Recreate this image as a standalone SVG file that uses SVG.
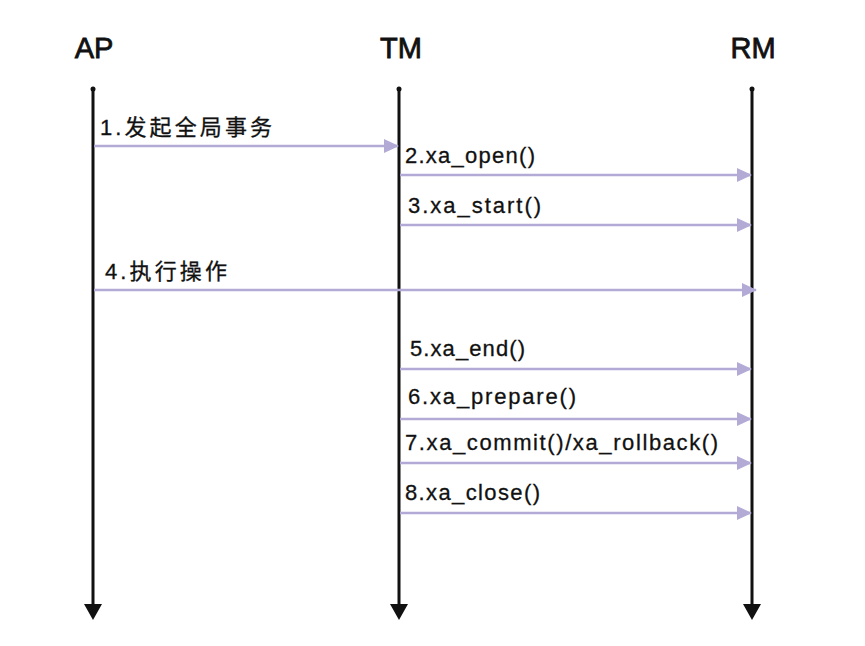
<svg xmlns="http://www.w3.org/2000/svg" width="865" height="646" viewBox="0 0 865 646">
<defs>
<style>
.hdr{font-family:"Liberation Sans","Noto Sans CJK SC",sans-serif;font-size:29px;fill:#111;stroke:#111;stroke-width:0.8;}
.lbl{font-family:"Liberation Sans","Noto Sans CJK SC",sans-serif;font-size:22px;fill:#111;stroke:#111;stroke-width:0.3;}
.life{stroke:#111;stroke-width:3;fill:none;}
.msg{stroke:#b3aad6;stroke-width:2.5;fill:none;}
</style>
<marker id="ah" markerWidth="16" markerHeight="14" refX="14" refY="7" orient="auto" markerUnits="userSpaceOnUse">
<path d="M0,0 L15,7 L0,14 Z" fill="#b3aad6"/>
</marker>
</defs>
<rect width="865" height="646" fill="#fff"/>
<g id="AP">
<text class="hdr" x="94" y="58" text-anchor="middle">AP</text>
<circle cx="93" cy="89" r="2.5" fill="#111"/>
</g>
<g id="TM">
<text class="hdr" x="401" y="58" text-anchor="middle">TM</text>
<circle cx="399" cy="89" r="2.5" fill="#111"/>
</g>
<g id="RM">
<text class="hdr" x="753" y="58" text-anchor="middle">RM</text>
<circle cx="752" cy="89" r="2.5" fill="#111"/>
</g>
<g id="lifelines">
<line class="life" x1="93" y1="89" x2="93" y2="606"/>
<path d="M84,604 L102,604 L93,620 Z" fill="#111"/>
<line class="life" x1="399" y1="89" x2="399" y2="606"/>
<path d="M390,604 L408,604 L399,620 Z" fill="#111"/>
<line class="life" x1="752" y1="89" x2="752" y2="606"/>
<path d="M743,604 L761,604 L752,620 Z" fill="#111"/>
</g>
<g id="connectors">
<line class="msg" x1="94" y1="146" x2="398" y2="146" marker-end="url(#ah)"/>
<line class="msg" x1="400" y1="175" x2="751" y2="175" marker-end="url(#ah)"/>
<line class="msg" x1="400" y1="225" x2="751" y2="225" marker-end="url(#ah)"/>
<line class="msg" x1="94" y1="290" x2="756" y2="290" marker-end="url(#ah)"/>
<line class="msg" x1="400" y1="369" x2="751" y2="369" marker-end="url(#ah)"/>
<line class="msg" x1="400" y1="419" x2="751" y2="419" marker-end="url(#ah)"/>
<line class="msg" x1="400" y1="463" x2="751" y2="463" marker-end="url(#ah)"/>
<line class="msg" x1="400" y1="513" x2="751" y2="513" marker-end="url(#ah)"/>
</g>
<g id="labels">
<text class="lbl" x="100" y="135" textLength="172" lengthAdjust="spacing">1.发起全局事务</text>
<text class="lbl" x="405" y="163" textLength="130" lengthAdjust="spacing">2.xa_open()</text>
<text class="lbl" x="408" y="213" textLength="133" lengthAdjust="spacing">3.xa_start()</text>
<text class="lbl" x="105" y="279" textLength="122" lengthAdjust="spacing">4.执行操作</text>
<text class="lbl" x="410" y="356" textLength="115" lengthAdjust="spacing">5.xa_end()</text>
<text class="lbl" x="408" y="404" textLength="168" lengthAdjust="spacing">6.xa_prepare()</text>
<text class="lbl" x="405" y="450" textLength="313" lengthAdjust="spacing">7.xa_commit()/xa_rollback()</text>
<text class="lbl" x="405" y="500" textLength="135" lengthAdjust="spacing">8.xa_close()</text>
</g>
</svg>
